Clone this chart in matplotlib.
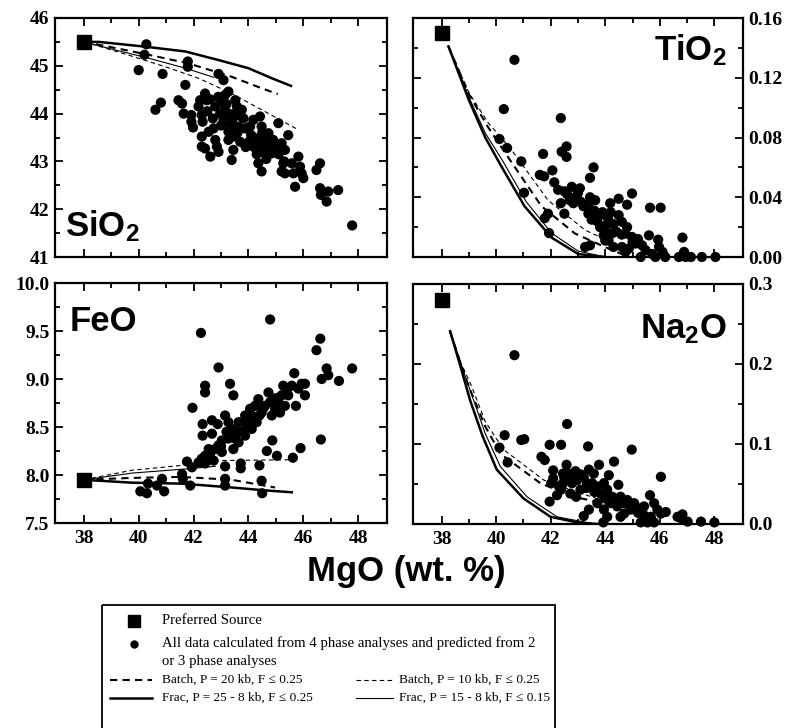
import matplotlib
matplotlib.use('Agg')
import matplotlib.pyplot as plt
from matplotlib.ticker import MultipleLocator, FixedLocator, FormatStrFormatter
from matplotlib.lines import Line2D
from matplotlib.patches import Rectangle

plt.rcParams['font.family'] = ['Liberation Serif', 'DejaVu Serif']
plt.rcParams['font.weight'] = 'bold'
plt.rcParams['mathtext.fontset'] = 'custom'
plt.rcParams['mathtext.rm'] = 'Liberation Sans:bold'
plt.rcParams['mathtext.it'] = 'Liberation Sans:bold'
plt.rcParams['mathtext.bf'] = 'Liberation Sans:bold'

# ---------------- data ----------------
source_mgo = 38.0
source_sio2 = 45.5
source_tio2 = 0.150
source_feo = 7.95
source_na2o = 0.28

sio2_points = [
    (40.28, 45.45), (40.21, 45.23), (40.0, 44.91), (40.87, 44.83), (41.79, 45.09), (41.79, 44.98),
    (42.91, 44.83), (43.09, 44.70), (41.70, 44.60), (40.61, 44.08), (40.81, 44.23), (41.45, 44.28),
    (41.58, 44.21), (41.64, 44.0), (41.92, 43.97), (41.92, 43.83), (41.98, 43.71), (42.24, 44.28),
    (42.42, 44.42), (42.48, 44.28), (42.18, 44.15), (42.30, 43.97), (42.33, 43.83), (42.30, 43.52),
    (42.30, 43.31), (42.42, 43.27), (42.61, 43.10), (42.55, 43.62), (42.73, 43.69), (42.79, 43.45),
    (42.85, 43.31), (42.91, 43.20), (42.79, 44.15), (42.97, 44.0), (43.03, 44.28), (43.15, 44.39),
    (43.27, 44.46), (43.15, 44.15), (43.27, 44.0), (43.09, 43.87), (43.27, 43.80), (43.39, 43.73),
    (43.27, 43.62), (43.52, 44.28), (43.58, 44.15), (43.76, 44.08), (43.82, 43.90), (43.45, 43.52),
    (43.27, 43.45), (43.70, 43.41), (43.45, 43.24), (43.39, 43.03), (43.64, 43.73), (43.88, 43.69),
    (44.06, 43.73), (44.18, 43.87), (44.12, 43.52), (44.24, 43.38), (44.30, 43.24), (44.42, 43.94),
    (44.48, 43.73), (44.48, 43.45), (44.55, 43.31), (44.61, 43.17), (44.73, 43.59), (44.79, 43.38),
    (44.85, 43.17), (44.36, 42.96), (44.48, 42.79), (45.09, 43.80), (45.21, 43.38), (45.33, 43.24),
    (45.45, 43.55), (45.27, 42.96), (45.21, 42.79), (45.33, 42.75), (45.58, 42.96), (45.64, 42.75),
    (45.70, 42.47), (45.82, 43.10), (45.88, 42.89), (45.94, 42.75), (46.0, 42.65), (46.48, 42.82),
    (46.61, 42.96), (46.61, 42.44), (46.64, 42.30), (46.85, 42.16), (46.91, 42.37), (47.27, 42.40),
    (47.78, 41.66),
    (44.0, 43.4), (44.2, 43.3), (44.4, 43.5), (44.6, 43.35), (44.8, 43.25), (45.0, 43.3), (44.3, 43.15),
    (44.7, 43.5), (44.9, 43.45), (45.1, 43.15), (44.5, 43.6), (44.1, 43.55), (43.9, 43.3), (45.3, 43.0),
    (44.65, 43.05), (42.6, 44.3), (42.9, 44.35), (43.2, 44.2), (43.5, 44.0), (43.7, 43.95), (42.7, 43.9),
    (43.0, 43.75), (43.4, 43.85), (43.6, 43.6), (42.5, 44.05),
]

tio2_points = [
    (40.67, 0.132), (40.28, 0.099), (42.37, 0.093), (40.12, 0.079), (40.40, 0.073), (40.92, 0.064),
    (41.02, 0.043), (41.72, 0.069), (41.60, 0.055), (41.76, 0.054), (42.06, 0.058), (42.40, 0.0705),
    (42.58, 0.074), (42.58, 0.067), (42.13, 0.050), (42.27, 0.045), (41.90, 0.029), (41.78, 0.026),
    (41.94, 0.016), (42.50, 0.029), (42.37, 0.036), (42.77, 0.047), (43.07, 0.046), (43.44, 0.053),
    (43.57, 0.060), (43.44, 0.040), (43.63, 0.038), (43.01, 0.038), (42.83, 0.036), (43.20, 0.034),
    (43.38, 0.029), (43.50, 0.025), (43.75, 0.027), (43.81, 0.020), (43.99, 0.018), (43.26, 0.0067),
    (43.44, 0.0078), (44.18, 0.036), (44.49, 0.039), (44.98, 0.0425), (44.49, 0.028), (44.61, 0.0235),
    (44.80, 0.035), (44.74, 0.0157), (44.24, 0.0157), (44.98, 0.0134), (45.10, 0.009), (45.35, 0.0078),
    (45.60, 0.0145), (45.64, 0.033), (46.03, 0.033), (45.94, 0.0116), (45.48, 0.0045), (45.30, 0.0),
    (45.84, 0.0), (46.20, 0.0), (46.83, 0.013), (46.89, 0.0034), (46.70, 0.0), (46.95, 0.0),
    (47.14, 0.0), (47.54, 0.0), (48.04, 0.0), (44.74, 0.0034), (44.61, 0.0067), (44.86, 0.0056),
    (44.00, 0.011), (43.94, 0.0145), (44.12, 0.011), (44.30, 0.0067), (45.97, 0.0067), (46.10, 0.0034),
    (45.72, 0.002),
    (42.6, 0.042), (42.9, 0.040), (43.1, 0.037), (43.3, 0.035), (42.7, 0.038), (43.6, 0.031),
    (43.9, 0.030), (44.1, 0.026), (44.3, 0.022), (43.7, 0.024), (44.0, 0.021), (44.4, 0.017),
    (44.6, 0.015), (43.4, 0.033), (42.5, 0.044), (43.0, 0.043), (44.2, 0.030), (44.8, 0.020),
    (45.0, 0.010), (45.2, 0.012),
]

feo_points = [
    (42.27, 9.48), (44.79, 9.62), (42.91, 9.12), (41.96, 8.70), (42.42, 8.93), (42.42, 8.86),
    (42.33, 8.53), (42.33, 8.41), (43.33, 8.95), (43.45, 8.83), (42.67, 8.57), (42.88, 8.53),
    (42.67, 8.43), (43.15, 8.62), (43.27, 8.55), (43.39, 8.48), (43.64, 8.55), (43.82, 8.46),
    (43.52, 8.41), (43.27, 8.38), (43.03, 8.36), (42.91, 8.31), (42.79, 8.27), (42.55, 8.27),
    (42.42, 8.20), (42.30, 8.17), (42.18, 8.13), (42.42, 8.12), (41.76, 8.14), (41.94, 8.08),
    (41.58, 8.01), (41.61, 7.96), (41.88, 7.89), (40.06, 7.83), (40.30, 7.81), (40.34, 7.91),
    (40.67, 7.89), (40.85, 7.96), (40.93, 7.83), (43.15, 8.09), (43.15, 7.96), (43.15, 7.89),
    (43.72, 8.12), (43.72, 8.07), (44.40, 8.10), (44.48, 7.94), (44.50, 7.81), (44.67, 8.25),
    (44.87, 8.36), (45.04, 8.20), (45.62, 8.18), (45.90, 8.28), (46.64, 8.37), (44.00, 8.52),
    (44.12, 8.62), (44.24, 8.72), (44.36, 8.79), (44.30, 8.55), (44.48, 8.65), (44.60, 8.72),
    (44.73, 8.86), (44.79, 8.76), (44.85, 8.62), (44.97, 8.69), (45.09, 8.76), (45.21, 8.83),
    (45.27, 8.93), (45.33, 8.72), (45.45, 8.83), (45.58, 8.93), (45.67, 9.06), (45.73, 8.72),
    (45.82, 8.90), (45.94, 8.95), (46.06, 8.83), (46.06, 8.95), (46.48, 9.30), (46.62, 9.42),
    (46.67, 9.00), (46.85, 9.11), (46.91, 9.04), (47.30, 8.98), (47.78, 9.11), (45.15, 8.65),
    (44.12, 8.48), (43.88, 8.62), (44.06, 8.69), (43.64, 8.34), (43.45, 8.27), (43.88, 8.41),
    (43.03, 8.24), (42.73, 8.15),
    (43.6, 8.45), (43.2, 8.45), (43.0, 8.30), (42.6, 8.22), (43.9, 8.55), (44.2, 8.58),
    (44.55, 8.70), (45.0, 8.80), (45.4, 8.88), (43.5, 8.38), (42.5, 8.15), (44.4, 8.62),
]

na2o_points = [
    (40.67, 0.211), (42.60, 0.125), (40.31, 0.111), (40.92, 0.105), (41.03, 0.106), (40.12, 0.0955),
    (40.42, 0.077), (41.96, 0.099), (42.38, 0.099), (43.37, 0.097), (44.97, 0.093), (41.66, 0.084),
    (41.78, 0.080), (42.09, 0.067), (42.09, 0.057), (41.96, 0.028), (42.58, 0.074), (42.45, 0.063),
    (42.45, 0.051), (42.38, 0.043), (42.66, 0.063), (42.78, 0.051), (42.91, 0.066), (42.97, 0.055),
    (43.21, 0.059), (43.33, 0.051), (43.40, 0.068), (43.58, 0.063), (43.77, 0.074), (43.52, 0.051),
    (43.71, 0.047), (43.83, 0.038), (44.13, 0.061), (44.32, 0.078), (44.48, 0.049), (44.26, 0.034),
    (44.56, 0.034), (44.69, 0.026), (44.44, 0.022), (44.81, 0.030), (45.06, 0.026), (45.18, 0.020),
    (45.42, 0.022), (45.64, 0.036), (46.04, 0.059), (45.79, 0.026), (45.91, 0.018), (46.22, 0.015),
    (45.42, 0.011), (45.67, 0.009), (45.30, 0.002), (45.55, 0.002), (45.79, 0.002), (43.21, 0.010),
    (43.40, 0.018), (43.93, 0.002), (43.95, 0.018), (44.07, 0.009), (44.56, 0.009), (44.69, 0.013),
    (44.93, 0.018), (42.93, 0.034), (46.83, 0.012), (46.79, 0.007), (47.02, 0.003), (47.51, 0.003),
    (48.00, 0.002), (46.65, 0.009), (46.04, 0.013), (42.02, 0.051), (42.23, 0.036), (42.72, 0.038),
    (43.09, 0.043), (44.07, 0.043), (43.95, 0.051), (44.20, 0.026), (43.71, 0.026),
    (42.5, 0.058), (42.8, 0.060), (43.1, 0.062), (43.3, 0.045), (43.6, 0.040), (42.3, 0.047),
    (44.0, 0.032), (44.4, 0.028), (44.9, 0.022), (45.2, 0.014),
]

# model curves (MgO, oxide)
sio2_frac25 = [(38.0, 45.5), (38.55, 45.5), (40.24, 45.4), (41.70, 45.30), (42.91, 45.12), (44.0, 44.95), (44.85, 44.74), (45.55, 44.58)]
sio2_batch20 = [(38.0, 45.5), (38.91, 45.4), (40.36, 45.23), (41.82, 45.05), (43.39, 44.77), (44.48, 44.53), (45.07, 44.41)]
sio2_frac15 = [(38.0, 45.5), (39.15, 45.33), (40.36, 45.16), (41.70, 44.95), (42.73, 44.76)]
sio2_batch10 = [(38.0, 45.5), (38.79, 45.37), (39.76, 45.2), (40.97, 44.98), (42.18, 44.74), (43.39, 44.42), (44.61, 44.04), (45.82, 43.66)]

tio2_frac25 = [(38.25, 0.141), (39.0, 0.105), (39.6, 0.080), (40.18, 0.061), (41.04, 0.034), (42.03, 0.013), (43.01, 0.002), (44.0, 0.0)]
tio2_frac15 = [(38.25, 0.141), (39.0, 0.107), (39.6, 0.083), (40.25, 0.064), (41.1, 0.037), (42.03, 0.016), (43.0, 0.004), (44.0, 0.0)]
tio2_batch20 = [(38.25, 0.141), (39.0, 0.109), (39.7, 0.087), (40.43, 0.067), (41.66, 0.034), (42.89, 0.0157), (44.12, 0.0056), (44.6, 0.002)]
tio2_batch10 = [(38.25, 0.141), (39.0, 0.110), (39.7, 0.090), (40.55, 0.072), (41.9, 0.038), (43.26, 0.018), (44.6, 0.0067), (45.0, 0.0045)]

feo_frac25 = [(38.0, 7.95), (39.76, 7.92), (41.58, 7.91), (43.39, 7.87), (44.6, 7.84), (45.58, 7.82)]
feo_batch20 = [(38.0, 7.95), (39.76, 7.97), (41.58, 7.98), (43.39, 7.95), (44.97, 7.87)]
feo_frac15 = [(38.0, 7.95), (39.76, 8.02), (41.58, 8.06), (42.79, 8.09)]
feo_batch10 = [(38.0, 7.95), (39.76, 8.05), (41.58, 8.10), (42.79, 8.15), (45.82, 8.16)]

na2o_frac25 = [(38.31, 0.241), (38.7, 0.196), (39.04, 0.155), (39.5, 0.110), (40.02, 0.068), (41.0, 0.032), (41.99, 0.009), (42.97, 0.002), (43.7, 0.0)]
na2o_frac15 = [(38.31, 0.241), (38.75, 0.196), (39.17, 0.155), (39.6, 0.113), (40.15, 0.072), (41.13, 0.034), (42.23, 0.009), (43.46, 0.001)]
na2o_batch20 = [(38.31, 0.241), (38.7, 0.200), (39.04, 0.168), (39.6, 0.122), (40.15, 0.088), (41.62, 0.051), (42.85, 0.034), (44.2, 0.024)]
na2o_batch10 = [(38.31, 0.241), (38.7, 0.202), (39.1, 0.172), (39.6, 0.128), (40.27, 0.093), (41.74, 0.055), (42.97, 0.040), (44.2, 0.026)]

x_major = [38, 40, 42, 44, 46, 48]
x_minor = [39, 41, 43, 45, 47]
xlabel_text = 'MgO (wt. %)'
legend_texts = ['Preferred Source',
                'All data calculated from 4 phase analyses and predicted from 2',
                'or 3 phase analyses',
                'Batch, P = 20 kb, F \u2264 0.25',
                'Batch, P = 10 kb, F \u2264 0.25',
                'Frac, P = 25 - 8 kb, F \u2264 0.25',
                'Frac, P = 15 - 8 kb, F \u2264 0.15']

# ---------------- styles ----------------
S_BATCH20 = dict(color='black', lw=1.5, dashes=(3.5, 2.5))
S_BATCH10 = dict(color='black', lw=0.8, dashes=(4, 3))
S_FRAC25 = dict(color='black', lw=1.8)
S_FRAC15 = dict(color='black', lw=0.8)

fig = plt.figure(figsize=(7.86, 7.28), dpi=100)
W, H = 786.0, 728.0


def make_ax(l, r, t, b):
    return fig.add_axes([l / W, 1 - b / H, (r - l) / W, (b - t) / H])


ax_si = make_ax(55, 387, 18, 257)
ax_ti = make_ax(413, 743, 18, 257)
ax_fe = make_ax(55, 387, 283, 523)
ax_na = make_ax(413, 743, 284, 524)


def style(ax, ylim, ymaj, ymin, fmt, right, xlabels):
    ax.set_xlim(36.95, 49.05)
    ax.set_ylim(*ylim)
    ax.xaxis.set_major_locator(FixedLocator(x_major))
    ax.xaxis.set_minor_locator(FixedLocator(x_minor))
    ax.yaxis.set_major_locator(MultipleLocator(ymaj))
    ax.yaxis.set_minor_locator(MultipleLocator(ymin))
    ax.yaxis.set_major_formatter(FormatStrFormatter(fmt))
    ax.tick_params(which='both', direction='in', top=True, bottom=True, left=True, right=True,
                   width=1.3, labelsize=14)
    ax.tick_params(which='major', length=6)
    ax.tick_params(which='minor', length=3.5)
    ax.tick_params(axis='x', labelbottom=xlabels, pad=5)
    ax.tick_params(axis='y', labelleft=not right, labelright=right, pad=4)
    for sp in ax.spines.values():
        sp.set_linewidth(1.6)


def draw(ax, pts, src, f25, b20, f15, b10):
    for curve, st in ((b10, S_BATCH10), (f15, S_FRAC15), (b20, S_BATCH20), (f25, S_FRAC25)):
        xs, ys = zip(*curve)
        ax.plot(xs, ys, **st, zorder=2)
    xs, ys = zip(*pts)
    ax.scatter(xs, ys, s=54, c='black', edgecolors='none', zorder=3, clip_on=False)
    ax.plot([source_mgo], [src], 's', ms=9.5, color='black', zorder=4, clip_on=False)


draw(ax_si, sio2_points, source_sio2, sio2_frac25, sio2_batch20, sio2_frac15, sio2_batch10)
draw(ax_ti, tio2_points, source_tio2, tio2_frac25, tio2_batch20, tio2_frac15, tio2_batch10)
draw(ax_fe, feo_points, source_feo, feo_frac25, feo_batch20, feo_frac15, feo_batch10)
draw(ax_na, na2o_points, source_na2o, na2o_frac25, na2o_batch20, na2o_frac15, na2o_batch10)

style(ax_si, (41, 46), 1, 0.5, '%d', False, False)
style(ax_ti, (0, 0.16), 0.04, 0.02, '%.2f', True, False)
style(ax_fe, (7.5, 10.0), 0.5, 0.25, '%.1f', False, True)
style(ax_na, (0, 0.3), 0.1, 0.05, '%.1f', True, True)

lab = dict(family=['Liberation Sans', 'DejaVu Sans'], weight='bold', fontsize=25, va='baseline')
ax_si.text(0.03, 0.085, r'SiO$_2$', transform=ax_si.transAxes, ha='left', **lab)
ax_ti.text(0.952, 0.825, r'TiO$_2$', transform=ax_ti.transAxes, ha='right', **lab)
ax_fe.text(0.045, 0.80, 'FeO', transform=ax_fe.transAxes, ha='left', **lab)
ax_na.text(0.952, 0.775, r'Na$_2$O', transform=ax_na.transAxes, ha='right', **lab)

fig.text(406 / W, 1 - 572 / H, xlabel_text, ha='center', va='center',
         family=['Liberation Sans', 'DejaVu Sans'], weight='bold', fontsize=25)

# ---------------- legend ----------------
lax = fig.add_axes([0, 0, 1, 1])
lax.set_xlim(0, W)
lax.set_ylim(H, 0)
lax.axis('off')
lax.add_patch(Rectangle((102, 605), 453, 140, fill=False, lw=1.3, edgecolor='black', clip_on=False))
lt = dict(family=['Liberation Serif', 'DejaVu Serif'], weight='normal', fontsize=10.6, va='center', ha='left')
lt2 = dict(lt, fontsize=9.6)
lax.plot([134], [621], 's', ms=8, color='black')
lax.text(162, 621, legend_texts[0], **lt)
lax.plot([134], [644], 'o', ms=5, color='black')
lax.text(162, 643, legend_texts[1], **lt)
lax.text(162, 661, legend_texts[2], **lt)
lax.add_line(Line2D([110, 152], [680, 680], **S_BATCH20))
lax.text(162, 680, legend_texts[3], **lt2)
lax.add_line(Line2D([356, 393], [680, 680], **S_BATCH10))
lax.text(399, 680, legend_texts[4], **lt2)
lax.add_line(Line2D([110, 152], [698, 698], **S_FRAC25))
lax.text(162, 698, legend_texts[5], **lt2)
lax.add_line(Line2D([356, 393], [698, 698], **S_FRAC15))
lax.text(399, 698, legend_texts[6], **lt2)

fig.savefig('out.png', dpi=100)
